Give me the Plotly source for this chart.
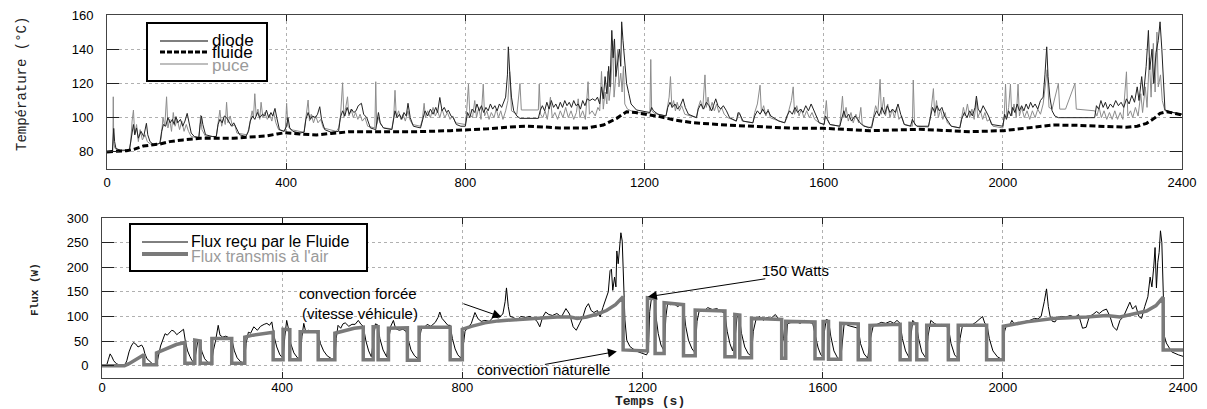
import plotly.graph_objects as go

# ---------------- DATA ----------------
# Top panel : temperatures (°C) versus time (s)
fluide = [(0,80),(44,80.7),(60,81.5),(81,83.4),(118,84.6),(140,86),(170,87),(208,87.9),(282,88),(356,89.3),
          (380,90.5),(397,91.2),(430,90.5),(468,89.9),(500,90.8),(542,91.8),(617,91.8),(691,91.8),(766,92.4),
          (800,92.8),(850,93.5),(900,94.5),(937,95),(980,94.5),(1011,94),(1071,94),(1108,95.7),(1138,99.6),
          (1160,103.5),(1180,103),(1205,102),(1234,100.6),(1270,98.5),(1309,97),(1383,95.7),(1458,94.8),
          (1532,93.8),(1599,93.8),(1650,93),(1703,92.4),(1760,92.8),(1815,93.2),(1870,92.5),(1927,91.8),
          (2001,92.4),(2040,93.5),(2075,94.4),(2113,95.7),(2170,95.5),(2224,95.1),(2276,94.4),(2300,95),
          (2321,96.7),(2340,100),(2351,102.5),(2366,103.5),(2400,101.6)]

diode = [(0,80),(12,80.5),(15,93.7),(17,86),(20,82),(30,81),(50,81),(54,88),(59,96),(62,90),(66,94),(70,88),
         (76,92),(82,89),(88,96.7),(91,90),(96,86),(105,84),(118,85),(122,92),(126,96),(131,95),(136,100),
         (141,97),(146,99),(150,96),(154,100.6),(158,97),(164,99),(169,95),(174,98),(179,102.5),(183,97),
         (188,91),(195,89),(205,88.5),(208,96),(211,101),(214,96),(220,90),(235,89),(244,89),(248,96),(252,99),
         (257,97),(262,101),(267,100),(272,98),(278,95),(283,97),(288,94),(296,90),(310,89),(316,92),(320,98),
         (325,101),(330,99),(336,103),(341,100),(347,102),(352,101),(356,104.4),(361,100),(366,103),(370,101),
         (375,105.4),(379,100),(385,93),(395,92),(401,95),(404,100),(408,94),(415,92),(430,91),(440,91.5),
         (444,99),(449,103),(454,99),(459,101),(465,100),(470,102),(475,106.4),(479,99),(486,93),(500,91.5),
         (517,92),(521,100),(526,104),(531,101),(536,106),(541,102),(546,105),(551,103),(556,104),(561,107),
         (568,108.4),(573,102),(580,100),(588,94),(600,93),(603,98),(606,103),(610,97),(617,94),(636,93),
         (640,100),(643,104),(648,100),(653,102),(658,99),(663,103),(668,101),(672,108.4),(677,100),(684,95),
         (700,94),(705,100),(710,104),(716,101),(722,105),(728,102),(734,106),(738,103),(743,111.8),(748,104),
         (753,106),(758,103),(762,104.4),(768,101),(773,100),(780,96),(790,95),(800,95),(805,103),(810,100),
         (815,105),(821,103),(826,108),(831,104),(836,107),(841,103),(846,106),(851,104),(856,108),(861,105),
         (866,107),(871,104),(876,108),(881,106),(886,110),(890,112),(894,125),(896,141.4),(899,127),(903,112),
         (908,104),(915,101),(922,99.6),(963,99.6),(967,104),(972,107),(977,104),(982,109),(987,105),(992,110),
         (997,106),(1002,108),(1007,105),(1012,109),(1017,106),(1022,110),(1027,107),(1032,109),(1037,106),
         (1042,110),(1047,107),(1052,108),(1057,105),(1062,110),(1067,107),(1072,111),(1078,110),(1084,111),
         (1090,110),(1095,112),(1100,108),(1104,118),(1108,111),(1112,124),(1116,114),(1120,130),(1123,118),
         (1127,151),(1130,135),(1133,146),(1136,124),(1140,132),(1144,140),(1147,130),(1149,156),(1152,145),
         (1156,133.6),(1160,120),(1165,114),(1170,108),(1182,104.5),(1200,103.5),(1212,103),(1216,106),
         (1220,104),(1230,102),(1248,101),(1252,106),(1257,109),(1262,106),(1268,108),(1274,105),(1280,107),
         (1286,111),(1291,106),(1298,102),(1316,100),(1320,105),(1326,108),(1332,105),(1338,109),(1344,107),
         (1350,104),(1354,107),(1359,111),(1364,107),(1370,105),(1376,107),(1383,104),(1390,100),(1405,98),
         (1409,103),(1413,102),(1420,98),(1442,97),(1446,101),(1452,104),(1458,102),(1464,105),(1470,102),
         (1476,104),(1482,101),(1488,100),(1500,98),(1513,97),(1518,101),(1524,104),(1530,102),(1536,106),
         (1542,103),(1548,105),(1554,103),(1560,107),(1566,104),(1572,108),(1577,105),(1583,101),(1590,97),
         (1601,96),(1604,101),(1608,99),(1614,96),(1636,95),(1640,99),(1645,104),(1650,100),(1656,102),
         (1662,98),(1670,101),(1676,99),(1681,97),(1690,95),(1707,94),(1712,100),(1718,104),(1724,101),
         (1730,106),(1736,102),(1742,107),(1748,103),(1754,105),(1760,103),(1766,108),(1772,102),(1780,96),
         (1794,95),(1798,99),(1802,97),(1808,95),(1834,95),(1838,101),(1843,106),(1848,103),(1853,107),
         (1858,104),(1864,106),(1870,101),(1875,99),(1885,95),(1904,94),(1908,99),(1914,103),(1920,100),
         (1926,104),(1932,101),(1938,106),(1941,112.6),(1945,105),(1950,103),(1956,107),(1962,104),(1968,101),
         (1975,96),(2000,95),(2004,102),(2008,99),(2013,104),(2018,101),(2022,106),(2027,103),(2032,108),
         (2037,104),(2042,107),(2047,104),(2052,108),(2057,105),(2062,109),(2067,106),(2072,108),(2078,105),
         (2084,110),(2090,112),(2094,125),(2098,141.4),(2101,124),(2105,112),(2110,104),(2116,101),(2124,100),
         (2140,100),(2160,100),(2180,99.6),(2205,100),(2209,107),(2214,105),(2219,110),(2224,106),(2229,109),
         (2234,105),(2240,108),(2246,106),(2252,110),(2258,107),(2264,109),(2270,106),(2276,111),(2282,108),
         (2288,113),(2294,109),(2300,118),(2304,110),(2310,124),(2314,113),(2320,130),(2325,151),(2328,128),
         (2333,140),(2337,120),(2342,138),(2347,145),(2351,156),(2355,140),(2358,120),(2362,104.5),(2380,103),
         (2400,102)]

puce = [(0,80),(13,80.5),(14,112.2),(15,85),(18,82),(30,80.5),(50,81),(53,86),(56,98),(59,104.4),(62,90),
        (66,96),(70,86),(74,93),(79,87),(85,90),(90,86),(100,84),(118,85),(121,88),(125,100),(129,95),
        (133,112.2),(136,94),(140,99),(144,92),(148,103),(152,95),(157,99),(162,93),(167,98),(172,92),(177,96),
        (182,92),(188,89),(205,88),(207,94),(209,101.5),(212,93),(220,89),(244,89),(247,95),(250,100),
        (252,104.4),(256,95),(260,100),(264,96),(267,109),(270,97),(275,101),(280,95),(285,96),(290,91),
        (312,90),(316,93),(320,99),(324,104),(327,100),(330,114),(333,101),(337,105),(341,99),(344,109),
        (348,100),(352,103),(358,99),(363,102),(368,98),(372,103),(377,97),(383,93),(398,92),(401,108.4),
        (404,95),(410,93),(440,91.5),(443,97),(446,102),(449,110.3),(452,98),(456,102),(461,97),(466,101),
        (471,97),(477,99),(483,94),(512,92),(517,94),(521,100),(526,120.4),(529,100),(533,106),(537,112.2),
        (540,101),(545,105),(550,100),(555,103),(560,99),(565,102),(570,98),(576,100),(582,95),(598,94),
        (600,121),(602,96),(606,100),(611,96),(618,94),(636,93.5),(640,100),(643,116),(646,100),(651,104),
        (656,99),(661,102),(666,98),(672,104),(676,99),(682,96),(700,95),(704,99),(708,108.4),(711,100),
        (716,104),(722,100),(728,106),(733,101),(738,104),(743,100),(748,105),(754,100),(760,103),(766,99),
        (772,101),(778,97),(800,96),(803,104),(807,119.6),(810,102),(816,100),(821,110),(825,100),(830,106),
        (835,99),(840,119.6),(843,101),(848,104),(853,99),(858,103),(864,100),(869,105),(874,100),(879,104),
        (884,99),(890,104),(895,110),(899,127),(903,104),(910,103),(915,102),(922,120),(925,104.5),
        (963,104.5),(965,119.6),(968,102),(973,100),(978,104),(983,99),(990,112),(994,100),(1000,103),
        (1006,99),(1012,104),(1018,100),(1024,106),(1030,100),(1036,104),(1042,99),(1048,103),(1052,111),
        (1056,100),(1062,104),(1068,99),(1074,121),(1077,102),(1083,104),(1090,101),(1096,106),(1100,104),
        (1104,127),(1108,105),(1112,115),(1116,108),(1118,127),(1121,110),(1125,120),(1129,145),(1132,112),
        (1136,124),(1140,139.5),(1143,118),(1147,126),(1150,115),(1153,130),(1156,108),(1162,105),(1170,104),
        (1185,103),(1212,102.5),(1214,134),(1216,104),(1222,102.5),(1248,101),(1252,108),(1255,112),
        (1258,124),(1261,106),(1265,110),(1269,104),(1273,109),(1278,104),(1283,107),(1290,102),(1316,100),
        (1320,106),(1325,110),(1330,105),(1335,125),(1338,106),(1342,112),(1346,104),(1351,109),(1356,104),
        (1361,108),(1366,103),(1372,106),(1378,102),(1386,100),(1405,98),(1409,101),(1412,103),(1418,98),
        (1442,97),(1446,103),(1452,108),(1458,119),(1461,103),(1466,107),(1471,101),(1476,105),(1481,100),
        (1490,99),(1513,97),(1518,100),(1524,106),(1528,110),(1532,118),(1535,102),(1540,107),(1545,101),
        (1550,105),(1556,100),(1562,104),(1568,100),(1574,103),(1580,99),(1590,97),(1601,96),(1603,102),
        (1606,110),(1609,99),(1614,96),(1636,95),(1639,102),(1642,112.6),(1645,100),(1650,106),(1655,98),
        (1661,103),(1666,97),(1672,102),(1678,97),(1683,106),(1686,96),(1700,94),(1707,95),(1711,100),
        (1716,107),(1721,103),(1726,122.4),(1729,102),(1734,112),(1738,101),(1743,108),(1748,100),(1753,105),
        (1758,100),(1763,106),(1768,99),(1774,101),(1780,96),(1798,95),(1800,122),(1803,96),(1810,95),
        (1834,94.5),(1838,100),(1842,108),(1845,117),(1848,101),(1852,110),(1856,100),(1861,105),(1866,99),
        (1871,103),(1876,97),(1885,95),(1904,94),(1908,99),(1912,106),(1916,101),(1921,108),(1926,100),
        (1931,105),(1936,99),(1941,110),(1944,100),(1950,104),(1955,99),(1960,103),(1965,98),(1971,99),
        (1978,95),(2000,94),(2003,100),(2006,119.6),(2009,100),(2013,106),(2017,119.6),(2020,101),(2025,108),
        (2030,100),(2034,119.6),(2037,101),(2042,106),(2048,100),(2054,104),(2060,99),(2066,104),(2072,100),
        (2078,105),(2084,102),(2090,108),(2095,118),(2099,128),(2103,106),(2110,105),(2124,120),(2127,105),
        (2140,105),(2161,120),(2164,105),(2180,104.5),(2205,104),(2210,101),(2215,106),(2220,100),(2226,104),
        (2232,99),(2238,103),(2244,99),(2250,104),(2256,99),(2262,103),(2268,99),(2276,126.8),(2279,101),
        (2285,104),(2290,100),(2296,106),(2302,101),(2308,114),(2312,103),(2318,118),(2322,106),(2327,135),
        (2331,112),(2336,143.4),(2340,115),(2344,150),(2347,118),(2352,125),(2356,110),(2362,104),(2380,103),
        (2400,102)]

# Bottom panel : heat flux (W) versus time (s)
flux_air = [(0,0),(50,0),(60,4),(70,9),(80,14),(93,22),(93,2),(121,2),(121,26),(135,32),(150,38),(165,43),
            (184,47),(184,5),(206,5),(206,52),(218,50),(218,5),(244,5),(244,55),(288,55),(288,5),(317,5),
            (317,58),(335,62),(355,65),(380,68),(380,12),(402,12),(402,74),(417,73),(417,12),(440,12),(440,69),
            (480,69),(480,12),(517,12),(517,66),(540,72),(560,76),(580,78),(580,12),(602,12),(602,79),(613,79),
            (613,12),(636,12),(636,76),(678,77),(678,11),(704,11),(704,78),(773,78),(773,12),(800,12),(800,74),
            (820,80),(850,87),(880,91),(910,93),(950,96),(980,98),(1010,99),(1040,99),(1055,96),(1076,99),
            (1100,105),(1120,112),(1140,124),(1157,140),(1157,32),(1211,30),(1211,138),(1228,136),(1228,25),
            (1248,25),(1248,128),(1291,124),(1291,20),(1317,20),(1317,113),(1383,111),(1383,18),(1405,18),
            (1405,104),(1416,103),(1416,16),(1442,16),(1442,96),(1509,94),(1509,15),(1518,15),(1518,90),
            (1583,89),(1583,14),(1601,14),(1601,90),(1613,90),(1613,13),(1640,13),(1640,86),(1679,85),(1679,12),
            (1705,12),(1705,82),(1772,84),(1772,12),(1794,12),(1794,86),(1809,85),(1809,12),(1831,12),(1831,82),
            (1879,82),(1879,12),(1901,12),(1901,82),(1964,82),(1964,12),(2001,12),(2001,80),(2053,89),(2112,96),
            (2186,99),(2230,102),(2260,99),(2290,105),(2319,111),(2340,122),(2356,139),(2356,32),(2400,32)]

flux_fluide = [(0,0),(10,0),(14,12),(18,24),(22,18),(26,10),(32,4),(40,1),(50,0),(55,10),(60,28),(65,40),
               (70,47),(75,44),(80,38),(85,40),(88,42),(92,36),(95,25),(100,14),(107,7),(113,3),(120,1),
               (124,14),(130,40),(135,55),(140,65),(145,62),(150,68),(155,72),(160,70),(166,63),(170,66),
               (175,69),(181,74),(185,50),(190,30),(195,19),(200,10),(205,6),(209,35),(213,52),(217,50),
               (222,28),(228,14),(236,6),(243,4),(247,30),(252,50),(258,82),(262,62),(268,58),(275,60),(282,56),
               (288,54),(294,30),(300,16),(308,8),(316,5),(320,45),(325,68),(330,66),(337,79),(345,72),(352,80),
               (360,84),(366,86),(372,82),(377,89),(382,60),(388,38),(395,22),(402,15),(406,60),(410,92),
               (414,75),(419,45),(426,26),(434,16),(440,14),(444,60),(448,86),(452,70),(458,72),(465,68),
               (472,70),(480,64),(485,45),(492,30),(500,20),(510,14),(517,14),(520,55),(524,82),(530,76),
               (535,85),(540,87),(548,80),(555,84),(562,84),(569,92),(575,84),(580,80),(586,50),(592,30),
               (598,18),(603,60),(607,85),(612,83),(617,55),(624,32),(632,18),(637,55),(641,80),(647,92),
               (652,75),(660,72),(668,74),(675,70),(680,50),(686,32),(694,20),(702,14),(706,60),(710,80),
               (716,78),(722,84),(730,80),(740,88),(746,98),(750,109),(755,96),(762,88),(768,82),(773,82),
               (778,55),(784,34),(790,22),(797,15),(802,40),(806,70),(812,78),(820,86),(828,108),(835,95),
               (842,90),(850,92),(860,90),(870,100),(880,97),(890,105),(895,130),(898,158),(902,120),(906,100),
               (914,98),(921,92),(930,100),(940,98),(950,100),(960,95),(966,90),(972,79),(978,98),(985,109),
               (992,104),(1000,102),(1010,106),(1020,99),(1030,116),(1038,105),(1046,79),(1053,72),(1060,85),
               (1068,100),(1074,118),(1080,126),(1086,112),(1092,108),(1100,112),(1106,99),(1112,118),
               (1118,133),(1124,150),(1128,193),(1131,196),(1134,153),(1138,180),(1141,160),(1143,233),
               (1146,207),(1149,240),(1152,270),(1155,253),(1158,180),(1161,93),(1165,52),(1172,39),(1185,30),
               (1200,24),(1209,22),(1213,30),(1216,110),(1220,138),(1226,136),(1230,100),(1235,65),(1241,42),
               (1248,30),(1252,100),(1256,128),(1262,124),(1270,126),(1278,120),(1285,124),(1291,120),(1296,80),
               (1302,52),(1310,34),(1317,26),(1321,90),(1326,112),(1335,110),(1345,118),(1355,114),(1365,116),
               (1375,110),(1383,106),(1388,70),(1394,45),(1400,30),(1406,60),(1410,100),(1415,98),(1420,65),
               (1427,38),(1435,24),(1442,20),(1446,70),(1452,94),(1460,100),(1468,92),(1476,98),(1485,96),
               (1495,104),(1503,94),(1509,92),(1513,55),(1518,40),(1522,85),(1530,88),(1540,90),(1550,86),
               (1560,92),(1570,88),(1578,86),(1584,60),(1590,36),(1596,22),(1601,18),(1604,70),(1608,94),
               (1613,92),(1618,60),(1625,30),(1633,16),(1640,12),(1644,60),(1648,88),(1655,82),(1664,80),
               (1672,77),(1679,76),(1684,45),(1692,24),(1700,15),(1706,55),(1712,80),(1720,84),(1730,88),
               (1740,86),(1750,90),(1758,86),(1765,92),(1772,86),(1777,55),(1784,30),(1792,16),(1796,60),
               (1800,92),(1808,84),(1813,55),(1820,28),(1830,14),(1834,60),(1840,92),(1848,86),(1856,82),
               (1865,84),(1872,80),(1879,78),(1885,45),(1893,22),(1901,14),(1905,55),(1910,80),(1920,84),
               (1930,82),(1940,88),(1948,94),(1955,100),(1960,86),(1965,82),(1970,55),(1978,30),(1988,18),
               (2000,12),(2004,70),(2008,82),(2014,80),(2020,92),(2026,84),(2034,88),(2042,86),(2050,90),
               (2060,92),(2070,96),(2078,95),(2085,100),(2092,130),(2097,156),(2101,120),(2105,100),(2110,90),
               (2116,89),(2122,98),(2130,100),(2140,99),(2150,102),(2160,98),(2168,104),(2177,76),(2185,78),
               (2192,100),(2200,104),(2208,110),(2214,106),(2222,112),(2230,115),(2238,100),(2245,79),(2253,72),
               (2260,92),(2268,100),(2276,118),(2282,129),(2288,115),(2295,122),(2302,100),(2308,96),(2315,120),
               (2322,140),(2327,180),(2331,160),(2335,200),(2338,240),(2341,158),(2344,210),(2347,230),
               (2350,274),(2353,250),(2356,153),(2359,59),(2363,46),(2375,28),(2390,22),(2400,19)]

x_ticks = [0, 400, 800, 1200, 1600, 2000, 2400]
temp_ticks = [80, 100, 120, 140, 160]
flux_ticks = [0, 50, 100, 150, 200, 250, 300]

# ---------------- FIGURE ----------------
W, H = 1207, 409
def px(x):
    return x / W
def py(y):
    return 1 - y / H

def unzip(pairs):
    return [p[0] for p in pairs], [p[1] for p in pairs]

fig = go.Figure()
t, v = unzip(puce)
fig.add_trace(go.Scatter(x=t, y=v, mode="lines", line=dict(color="#8c8c8c", width=1), xaxis="x", yaxis="y"))
t, v = unzip(diode)
fig.add_trace(go.Scatter(x=t, y=v, mode="lines", line=dict(color="#222222", width=1), xaxis="x", yaxis="y"))
t, v = unzip(fluide)
fig.add_trace(go.Scatter(x=t, y=v, mode="lines", line=dict(color="black", width=3, dash="6px,3px"),
                         xaxis="x", yaxis="y"))
t, v = unzip(flux_fluide)
fig.add_trace(go.Scatter(x=t, y=v, mode="lines", line=dict(color="black", width=1), xaxis="x2", yaxis="y2"))
t, v = unzip(flux_air)
fig.add_trace(go.Scatter(x=t, y=v, mode="lines", line=dict(color="#7a7a7a", width=3.5), xaxis="x2", yaxis="y2"))

axis_common = dict(showline=True, linecolor="#444", linewidth=1, mirror="ticks", ticks="inside",
                   tickcolor="#222", showgrid=True, gridcolor="#b0b0b0", griddash="dot", gridwidth=1,
                   zeroline=False, automargin=False,
                   tickfont=dict(family="Liberation Sans, Arial", size=13, color="black"))

fig.update_layout(
    width=W, height=H, autosize=False,
    margin=dict(l=0, r=0, t=0, b=0, pad=0, autoexpand=False),
    paper_bgcolor="white", plot_bgcolor="white", showlegend=False,
    xaxis=dict(domain=[px(107), px(1182)], range=[0, 2400], anchor="y", tickvals=x_ticks, ticklen=6,
               ticklabelstandoff=1, **axis_common),
    yaxis=dict(domain=[py(169), py(15)], range=[70, 160], anchor="x", tickvals=temp_ticks, ticklen=12,
               ticklabelstandoff=10, **axis_common),
    xaxis2=dict(domain=[px(102), px(1183)], range=[0, 2400], anchor="y2", tickvals=x_ticks, ticklen=6,
                ticklabelstandoff=-3, **axis_common),
    yaxis2=dict(domain=[py(378), py(218)], range=[-25, 300], anchor="x2", tickvals=flux_ticks, ticklen=12,
                ticklabelstandoff=10, **axis_common),
)

shapes = []
annotations = []
sans = "Liberation Sans, Arial"
mono = "Liberation Mono, DejaVu Sans Mono, monospace"

def paper_text(x, y, text, font, angle=0, xanchor="center"):
    return dict(xref="paper", yref="paper", x=px(x), y=py(y), text=text, textangle=angle,
                xanchor=xanchor, yanchor="middle", showarrow=False, borderpad=0, font=font)

# axis titles
annotations.append(paper_text(22, 84, "Température (°C)", dict(family=mono, size=14, color="#222"), angle=-90))
annotations.append(paper_text(35, 290, "<b>Flux (W)</b>", dict(family=mono, size=11, color="#222"), angle=-90))
annotations.append(paper_text(650, 401, "<b>Temps (s)</b>", dict(family=mono, size=13, color="#222")))

# top legend
shapes.append(dict(type="rect", xref="paper", yref="paper", x0=px(147), x1=px(267), y0=py(81), y1=py(23),
                   line=dict(color="black", width=2), fillcolor="white", layer="above"))
shapes.append(dict(type="line", xref="paper", yref="paper", x0=px(160), x1=px(208), y0=py(41), y1=py(41),
                   line=dict(color="#555", width=1.5), layer="above"))
shapes.append(dict(type="line", xref="paper", yref="paper", x0=px(160), x1=px(208), y0=py(52), y1=py(52),
                   line=dict(color="black", width=3, dash="5px,2px"), layer="above"))
shapes.append(dict(type="line", xref="paper", yref="paper", x0=px(160), x1=px(208), y0=py(64), y1=py(64),
                   line=dict(color="#a8a8a8", width=1.5), layer="above"))
for label, yy, col in [("diode", 41, "black"), ("fluide", 53, "black"), ("puce", 65, "#9a9a9a")]:
    annotations.append(paper_text(211, yy, label, dict(family=sans, size=17, color=col), xanchor="left"))

# bottom legend
shapes.append(dict(type="rect", xref="paper", yref="paper", x0=px(130), x1=px(367), y0=py(271), y1=py(224),
                   line=dict(color="black", width=2), fillcolor="white", layer="above"))
shapes.append(dict(type="line", xref="paper", yref="paper", x0=px(142), x1=px(188), y0=py(242), y1=py(242),
                   line=dict(color="black", width=1), layer="above"))
shapes.append(dict(type="line", xref="paper", yref="paper", x0=px(142), x1=px(188), y0=py(254), y1=py(254),
                   line=dict(color="#7a7a7a", width=4), layer="above"))
annotations.append(paper_text(190, 242, "Flux reçu par le Fluide", dict(family=sans, size=16, color="black"),
                              xanchor="left"))
annotations.append(paper_text(190, 256, "Flux transmis à l'air", dict(family=sans, size=16, color="#9a9a9a"),
                              xanchor="left"))

# annotations in the flux panel
txt_font = dict(family=sans, size=15, color="black")
annotations.append(dict(xref="x2", yref="y2", x=568, y=146, text="convection forcée", showarrow=False, font=txt_font))
annotations.append(dict(xref="x2", yref="y2", x=573, y=106, text="(vitesse véhicule)", showarrow=False, font=txt_font))
annotations.append(dict(xref="x2", yref="y2", x=1540, y=193, text="150 Watts", showarrow=False, font=txt_font))
annotations.append(dict(xref="x2", yref="y2", x=981, y=-7, text="convection naturelle", showarrow=False, font=txt_font))
for (hx, hy, tx, ty) in [(887, 99, 799, 127), (1212, 140, 1476, 177), (1143, 29, 980, 2)]:
    annotations.append(dict(xref="x2", yref="y2", x=hx, y=hy, ax=tx, ay=ty, axref="x2", ayref="y2",
                            text="", showarrow=True, arrowhead=2, arrowsize=1.8, arrowwidth=1,
                            arrowcolor="black", standoff=0))

fig.update_layout(shapes=shapes, annotations=annotations)
fig.write_html("out.html", config={"displayModeBar": False, "staticPlot": True},
               post_script="document.body.style.margin='0';document.body.style.padding='0';"
                           "document.body.style.overflow='hidden';")
